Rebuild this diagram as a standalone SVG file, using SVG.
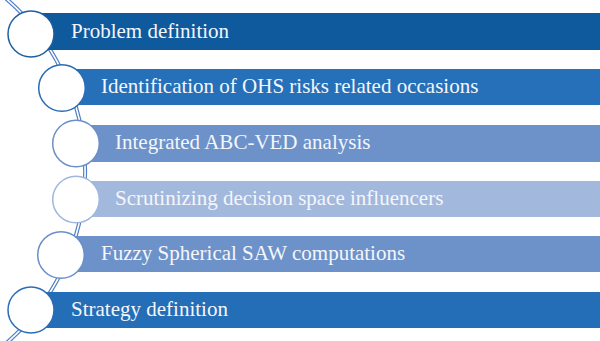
<svg xmlns="http://www.w3.org/2000/svg" width="600" height="341" viewBox="0 0 600 341">
  <style>
    .lbl { font-family: "Liberation Serif", "Times New Roman", serif; font-size: 21px; fill: #f4f6fa; }
    .dot { fill: #ffffff; stroke-width: 1.5; }
  </style>
  <rect width="600" height="341" fill="#ffffff"/>

  <!-- curved spine running through the step circles (double line) -->
  <g id="connectors" fill="none">
    <path d="M 3 -4 A 227.5 227.5 0 0 1 3 346" stroke="#4f80c6" stroke-width="4"/>
    <path d="M 3 -4 A 227.5 227.5 0 0 1 3 346" stroke="#ffffff" stroke-width="1.6"/>
  </g>

  <g id="step1">
    <rect x="31" y="13" width="569" height="37" fill="#0f5a9d"/>
    <circle class="dot" cx="31" cy="34" r="23" stroke="#1d5fa2"/>
    <text class="lbl" x="71" y="37.5">Problem definition</text>
  </g>

  <g id="step2">
    <rect x="62" y="69" width="538" height="36" fill="#2570b8"/>
    <circle class="dot" cx="62" cy="88" r="23.3" stroke="#2a6db6"/>
    <text class="lbl" x="101" y="93">Identification of OHS risks related occasions</text>
  </g>

  <g id="step3">
    <rect x="76" y="125" width="524" height="37" fill="#6d92c9"/>
    <circle class="dot" cx="76" cy="143.5" r="23.3" stroke="#6a8fc8"/>
    <text class="lbl" x="115" y="149">Integrated ABC-VED analysis</text>
  </g>

  <g id="step4">
    <rect x="76" y="181" width="524" height="36" fill="#a3b8dd"/>
    <circle class="dot" cx="76" cy="199.5" r="23.3" stroke="#a0b6dc"/>
    <text class="lbl" x="115" y="205">Scrutinizing decision space influencers</text>
  </g>

  <g id="step5">
    <rect x="61" y="236" width="539" height="36" fill="#6d92c9"/>
    <circle class="dot" cx="61" cy="255" r="23.3" stroke="#6a8fc8"/>
    <text class="lbl" x="101" y="260">Fuzzy Spherical SAW computations</text>
  </g>

  <g id="step6">
    <rect x="31" y="292" width="569" height="36" fill="#246db7"/>
    <circle class="dot" cx="31" cy="310" r="23" stroke="#2a6db6"/>
    <text class="lbl" x="71" y="316">Strategy definition</text>
  </g>
</svg>
